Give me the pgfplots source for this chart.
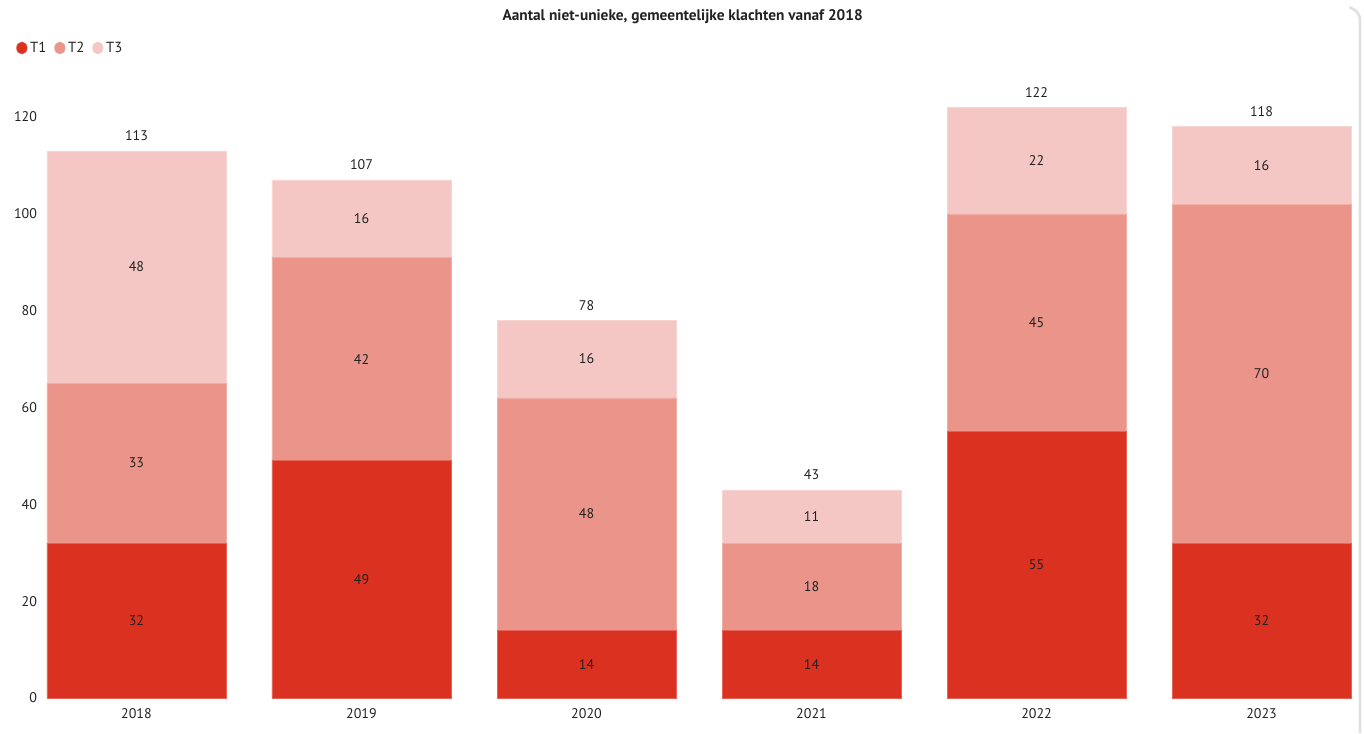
\documentclass[border=0pt]{standalone}
\usepackage{fontspec}
\setmainfont{PT Sans}
\usepackage{pgfplots}
\usepackage{pgfplotstable}
\pgfplotsset{compat=1.18}

\definecolor{tone}{HTML}{DB3121}
\definecolor{ttwo}{HTML}{EA948A}
\definecolor{tthree}{HTML}{F4C7C4}
\definecolor{txt}{HTML}{222222}

% klachten per jaar, per type
\pgfplotstableread{
x T1 T2 T3
0 32 33 48
1 49 42 16
2 14 48 16
3 14 18 11
4 55 45 22
5 32 70 16
}\klachten
% label positions: middle of each segment, and the total
\pgfplotstablecreatecol[expr={\thisrow{T1}/2}]{m1}\klachten
\pgfplotstablecreatecol[expr={\thisrow{T1}+\thisrow{T2}/2}]{m2}\klachten
\pgfplotstablecreatecol[expr={\thisrow{T1}+\thisrow{T2}+\thisrow{T3}/2}]{m3}\klachten
\pgfplotstablecreatecol[expr={\thisrow{T1}+\thisrow{T2}+\thisrow{T3}}]{tot}\klachten

\pgfplotsset{
  frame/.style={
    at={(29.25pt,26.25pt)}, anchor=south west,
    scale only axis,
    width=987.75pt, height=472.125pt,
    xmin=-0.4333, xmax=5.42, ymin=0, ymax=130,
  },
}

\begin{document}
\begin{tikzpicture}[font=\fontsize{10.5}{12}\selectfont, text=txt]
\useasboundingbox (0,0) rectangle (1023pt,549.75pt);
\begin{axis}[
  frame,
  ybar stacked, bar width=134.25pt,
  axis line style={draw=none}, tick style={draw=none},
  xtick=data, xticklabels={2018,2019,2020,2021,2022,2023},
  ytick={0,20,...,120},
  xticklabel style={yshift=-4.5pt},
  yticklabel style={xshift=2pt},
  /pgf/number format/assume math mode=true,
  legend style={at={(-0.0205,1.0326)}, anchor=west, draw=none, fill=none,
    font=\fontsize{11}{12}\selectfont,
    legend columns=-1, /tikz/every even column/.append style={column sep=4pt}},
  legend image code/.code={\fill[#1] (0pt,0pt) ellipse (4pt and 4.6pt);},
]
\addplot[fill=tone, draw=tone!75!white, line width=0.4pt] table[x=x, y=T1] \klachten;
\addplot[fill=ttwo, draw=ttwo!75!white, line width=0.4pt] table[x=x, y=T2] \klachten;
\addplot[fill=tthree, draw=tthree!75!white, line width=0.4pt] table[x=x, y=T3] \klachten;
\legend{T1,T2,T3}
\end{axis}
\begin{axis}[
  frame, hide axis,
  nodes near coords, point meta=explicit,
  /pgf/number format/assume math mode=true,
]
\addplot[draw=none, mark=none, nodes near coords align={center},
  every node near coord/.style={anchor=center}]
  table[x=x, y=m1, meta=T1] \klachten;
\addplot[draw=none, mark=none, nodes near coords align={center},
  every node near coord/.style={anchor=center}]
  table[x=x, y=m2, meta=T2] \klachten;
\addplot[draw=none, mark=none, nodes near coords align={center},
  every node near coord/.style={anchor=center}]
  table[x=x, y=m3, meta=T3] \klachten;
\addplot[draw=none, mark=none,
  every node near coord/.style={anchor=south, yshift=4pt}]
  table[x=x, y=tot, meta=tot] \klachten;
\end{axis}
\node[font=\bfseries\fontsize{11.5}{13}\selectfont] at (512pt,537pt)
  {Aantal niet-unieke, gemeentelijke klachten vanaf 2018};
\draw[black!12, line width=2pt, rounded corners=5pt]
  (1012pt,544.5pt) -- (1020pt,540pt) -- (1020pt,0pt);
\end{tikzpicture}
\end{document}
